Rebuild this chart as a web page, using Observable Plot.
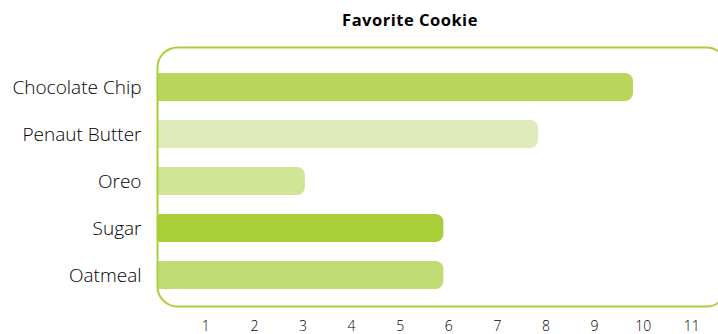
<!DOCTYPE html>
<html>
<head>
<meta charset="utf-8">
<script src="https://cdn.jsdelivr.net/npm/d3@7"></script>
<script src="https://cdn.jsdelivr.net/npm/@observablehq/plot@0.6"></script>
<style>
  html, body { margin: 0; padding: 0; background: #fff; overflow: hidden; }
  #chart svg { display: block; }
</style>
</head>
<body>
<div id="chart"></div>
<script>
const title = "Favorite Cookie";
const categories = ["Chocolate Chip", "Penaut Butter", "Oreo", "Sugar", "Oatmeal"];
const values = [9.8, 7.85, 3.05, 5.9, 5.9];
const colors = ["#b9d65a", "#dfebbb", "#d2e496", "#a9cf38", "#c2dc75"];
const xTicks = [1, 2, 3, 4, 5, 6, 7, 8, 9, 10, 11];

const data = categories.map((c, i) => ({cat: c, value: values[i], color: colors[i]}));

const chart = Plot.plot({
  width: 718,
  height: 334,
  marginTop: 47,
  marginBottom: 28,
  marginLeft: 157,
  marginRight: 0,
  style: {fontFamily: "'Open Sans', sans-serif", color: "#222", background: "#fff"},
  x: {domain: [0, 11.55], range: [156.7, 718]},
  y: {domain: categories, range: [61.6, 300.7], paddingInner: 0.41, paddingOuter: 0.205},
  color: {type: "identity"},
  marks: [
    Plot.barX(data, {y: "cat", x1: 0, x2: "value", fill: "color", rx: 8, insetLeft: -14, clip: true}),
    Plot.frame({stroke: "#a9cf38", strokeWidth: 2, rx: 20, insetRight: -8}),
    Plot.axisY({tickSize: 0, tickPadding: 16, fontSize: 19, fontWeight: 300, fill: "#000", label: null}),
    Plot.axisX({ticks: xTicks, tickSize: 0, tickPadding: 15, fontSize: 14, fontWeight: 300, fill: "#000", label: null}),
    Plot.text([title], {frameAnchor: "top", dx: -28, dy: -33, fontSize: 16.5, fontWeight: "bold", fill: "#000"})
  ]
});
d3.select(chart).selectAll("g[aria-label='text'] text").style("letter-spacing", "0.5px");
document.getElementById("chart").appendChild(chart);
</script>
</body>
</html>
